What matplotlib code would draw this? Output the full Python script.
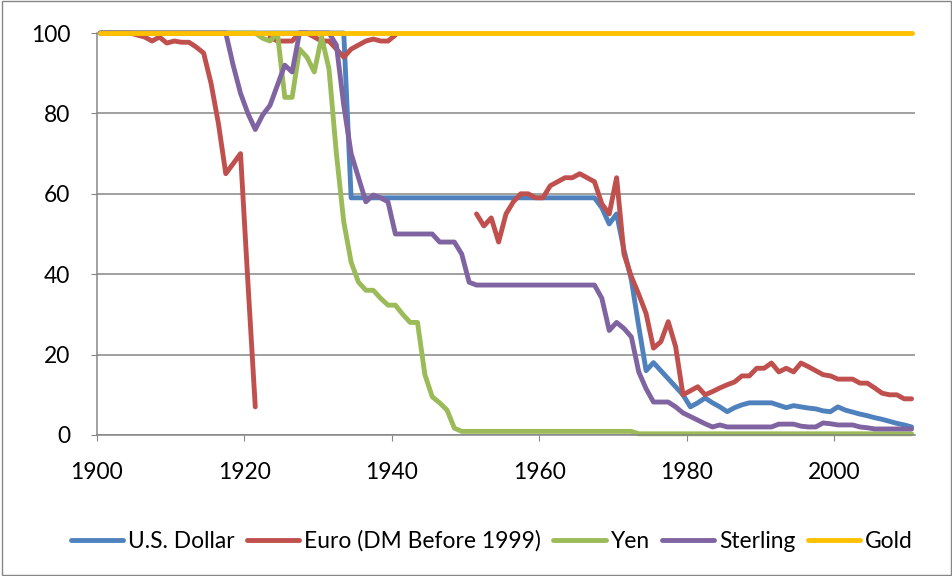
import numpy as np
import matplotlib
matplotlib.use("Agg")
import matplotlib.pyplot as plt
from matplotlib.patches import Rectangle

# Lato is the closest installed font to Calibri
plt.rcParams['font.family'] = ['Lato', 'DejaVu Sans']

nan = np.nan
years = np.arange(1900, 2011)

usd = ([100] * 34 + [59] * 34 +
       [56.5, 52.5, 55, 46, 38.6, 27, 16, 18, 16, 14, 12, 10, 7, 8, 9.2, 8, 7, 5.8,
        6.8, 7.5, 8, 8, 8, 8, 7.4, 6.8, 7.3, 7, 6.7, 6.5, 6, 5.8,
        7, 6.2, 5.7, 5.2, 4.8, 4.3, 3.9, 3.4, 2.9, 2.5, 2])

euro = ([100] * 5 +
        [99.5, 99, 98, 99, 97.5, 98, 97.7, 97.7, 96.5, 95, 87.5, 77.5, 65, 67.5, 70, 38, 7] +
        [nan] +
        [99, 98, 98, 98, 100, 100, 99, 98, 98, 96, 94, 96, 97, 98, 98.5, 98, 98, 99.5] +
        [nan] * 10 +
        [55, 52, 54, 48, 55, 58, 60, 60, 59, 59, 62, 63, 64, 64, 65, 64, 63, 57.5, 55, 64,
         45, 39.4, 35, 30.2, 21.6, 23.2, 28.2, 22, 10, 11, 12, 10, 10.8, 11.7, 12.5, 13.2,
         14.7, 14.7, 16.6, 16.6, 17.9, 15.7, 16.6, 15.7, 17.9, 17, 16, 15, 14.7,
         13.9, 13.9, 13.9, 12.9, 12.9, 11.7, 10.4, 10, 10, 9, 9])

yen = ([100] * 22 +
       [98.7, 98, 100, 84, 84, 96, 94, 90.3, 99, 91, 70, 53, 43, 38, 36, 36, 34, 32.3, 32.3,
        30, 28, 28, 15, 9.5, 8, 6.2, 1.7, 0.9] +
       [0.9] * 23 +
       [0.3] * 38)

sterling = ([100] * 18 +
            [92, 85, 80, 76, 79.6, 82, 87, 92, 90.3, 100, 100, 100, 100, 100, 97, 82, 70, 64,
             58, 59.7, 59, 58, 50, 50, 50, 50, 50, 50, 48, 48, 48, 45, 38] +
            [37.3] * 17 +
            [34, 26, 28, 26.5, 24.4, 15.7, 11.5, 8.2, 8.2, 8.2, 7, 5.5, 4.6, 3.7, 2.8, 2, 2.5] +
            [2] * 7 +
            [2.7, 2.7, 2.7, 2.2, 2, 2, 3, 2.8, 2.5, 2.5, 2.5, 2, 1.8] +
            [1.5] * 6)

gold = [100] * len(years)

series = [
    ("U.S. Dollar", usd, "#4F81BD"),
    ("Euro (DM Before 1999)", euro, "#C0504D"),
    ("Yen", yen, "#9BBB59"),
    ("Sterling", sterling, "#8064A2"),
    ("Gold", gold, "#FFC000"),
]

fig = plt.figure(figsize=(9.53, 5.76), dpi=100)
ax = fig.add_axes([0.1015, 0.2448, 0.8589, 0.6979])

# category axis: each year sits in the middle of its slot
x = years + 0.5
for label, vals, color in series:
    ax.plot(x, vals, color=color, lw=3.5, label=label, clip_on=False,
            solid_joinstyle='round', solid_capstyle='round')

grey = '#868686'
fs = 16.4
ax.set_xlim(1900, 2011)
ax.set_ylim(0, 100)
ax.set_xticks(range(1900, 2001, 20))
ax.set_yticks(range(0, 101, 20))
ax.yaxis.grid(True, color=grey, lw=1.1)
ax.set_axisbelow(True)
for side in ['top', 'right']:
    ax.spines[side].set_visible(False)
for side in ['left', 'bottom']:
    ax.spines[side].set_color(grey)
    ax.spines[side].set_linewidth(1.1)
ax.tick_params(axis='x', direction='out', length=4, color=grey, labelsize=fs, pad=15.5)
ax.tick_params(axis='y', direction='out', length=4, color=grey, labelsize=fs, pad=15)

ax.legend(loc='center', bbox_to_anchor=(0.516, 0.061), bbox_transform=fig.transFigure,
          ncol=5, frameon=False, fontsize=fs, handlelength=2.3, handletextpad=0.22,
          columnspacing=0.53)

fig.patches.append(Rectangle((0.002, 0.002), 0.996, 0.996, transform=fig.transFigure,
                             fill=False, edgecolor=grey, lw=1))

fig.savefig('out.png', dpi=100)
